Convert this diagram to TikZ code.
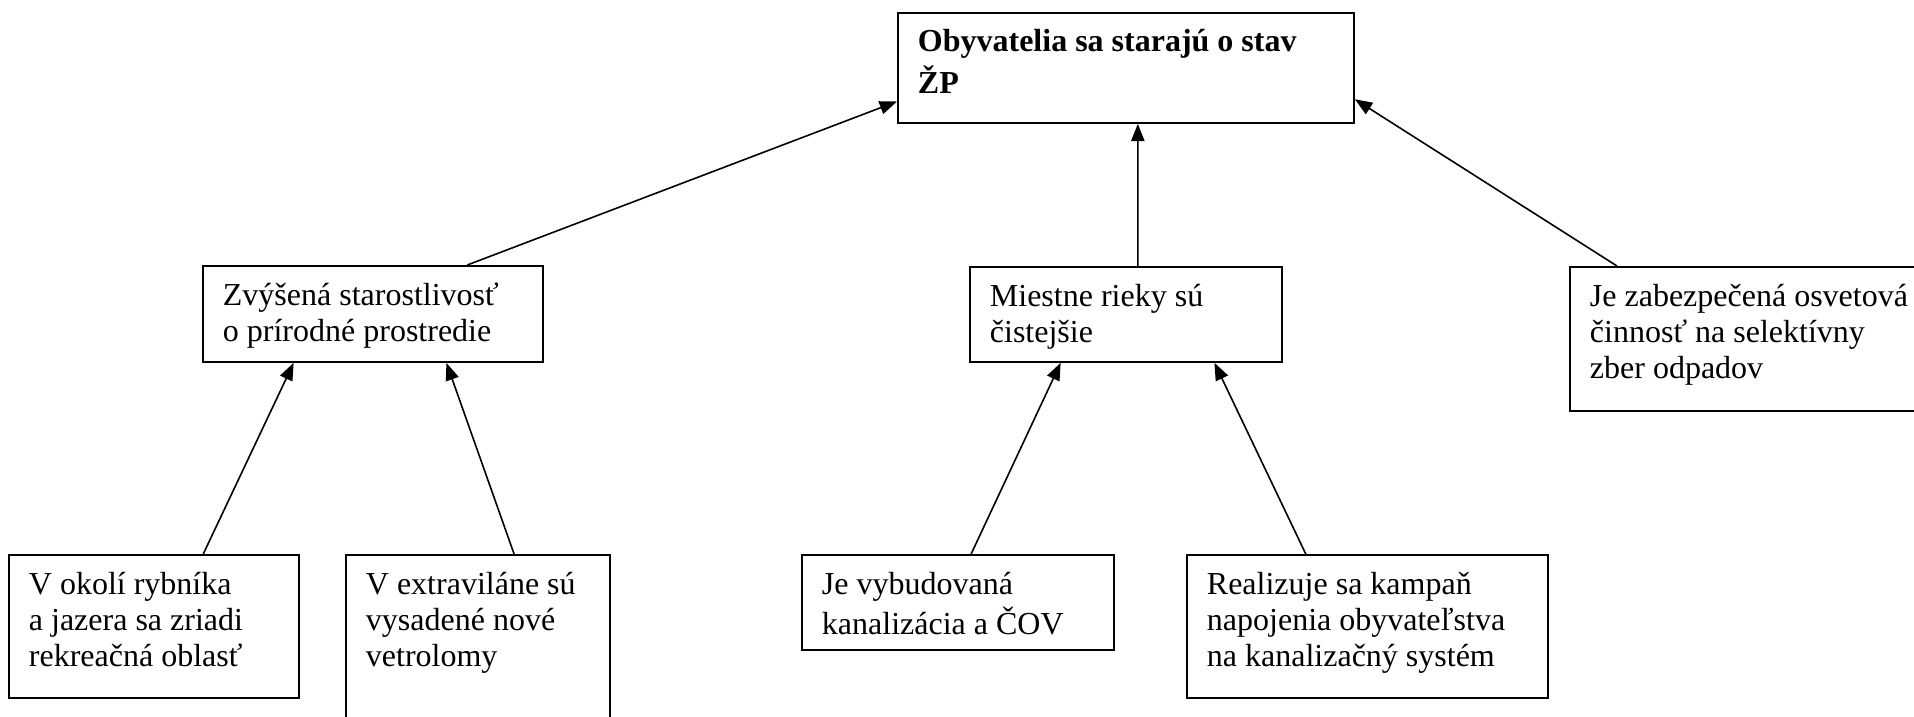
\documentclass[tikz,border=0pt]{standalone}
\usepackage{fontspec}
\setmainfont{Liberation Serif}
\usetikzlibrary{arrows.meta}
\usetikzlibrary{calc}
\tikzset{
blok/.style={draw, line width=0.7pt, anchor=north west, inner xsep=7.5pt, inner ysep=5.2pt, font=\fontsize{12}{13.5}\selectfont},
sip/.style={line width=0.6pt, -{Triangle[length=6.5pt,width=5pt]}}
}
\newcommand{\obsah}[3]{\parbox[c][\dimexpr#2-10.4pt\relax][t]{\dimexpr#1-15pt\relax}{\raggedright\strut#3}}

\begin{document}
\begin{tikzpicture}[x=0.375pt,y=-0.375pt]
\useasboundingbox (0,0) rectangle (1914,717);

\node[blok] (cil) at (897,12) {\obsah{171pt}{41.25pt}{\textbf{Obyvatelia sa starajú o stav\\ŽP}}};

\node[blok] (zvys) at (202,265) {\obsah{127.5pt}{36pt}{Zvýšená starostlivosť\\o prírodné prostredie}};
\node[blok] (rieky) at (969,266) {\obsah{117pt}{35.6pt}{Miestne rieky sú\\čistejšie}};
\node[blok] (osveta) at (1569,266) {\obsah{140pt}{54pt}{Je zabezpečená osvetová\\činnosť na selektívny\\zber odpadov}};

\node[blok] (rybnik) at (8,554) {\obsah{108.75pt}{53.6pt}{V okolí rybníka\\a jazera sa zriadi\\rekreačná oblasť}};
\node[blok] (vetrolomy) at (345,554) {\obsah{99pt}{68pt}{V extraviláne sú\\vysadené nové\\vetrolomy}};
\node[blok] (cov) at (801,554) {\obsah{117pt}{35.6pt}{Je vybudovaná\\kanalizácia a ČOV}};
\node[blok] (kampan) at (1186,554) {\obsah{135.4pt}{53.6pt}{Realizuje sa kampaň\\napojenia obyvateľstva\\na kanalizačný systém}};

\draw[sip] ($(zvys.north west)!0.776!(zvys.north east)$) -- ($(cil.north west)!0.8!(cil.south west)$);
\draw[sip] ($(rieky.north west)!0.538!(rieky.north east)$) -- ($(cil.south west)!0.526!(cil.south east)$);
\draw[sip] ([xshift=18pt]osveta.north west) -- ($(cil.north east)!0.78!(cil.south east)$);

\draw[sip] ($(rybnik.north west)!0.669!(rybnik.north east)$) -- ($(zvys.south west)!0.268!(zvys.south east)$);
\draw[sip] ($(vetrolomy.north west)!0.636!(vetrolomy.north east)$) -- ($(zvys.south west)!0.715!(zvys.south east)$);
\draw[sip] ($(cov.north west)!0.542!(cov.north east)$) -- ($(rieky.south west)!0.292!(rieky.south east)$);
\draw[sip] ($(kampan.north west)!0.33!(kampan.north east)$) -- ($(rieky.south west)!0.782!(rieky.south east)$);
\end{tikzpicture}
\end{document}
